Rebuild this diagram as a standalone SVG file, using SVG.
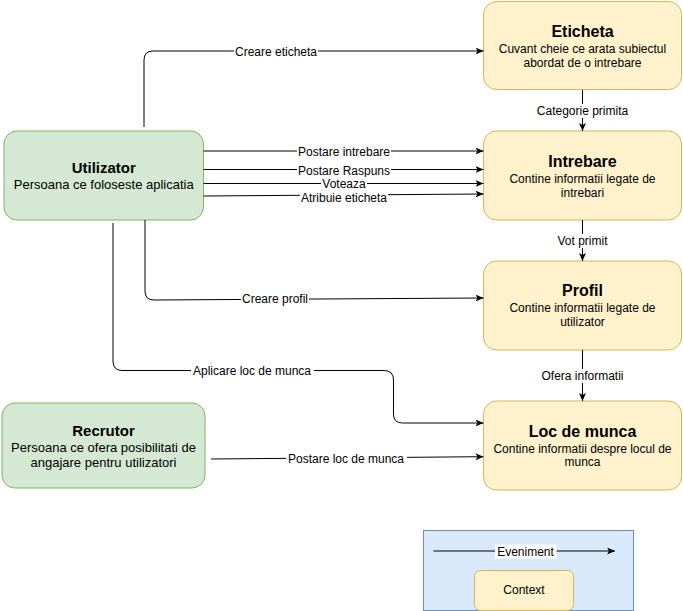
<svg xmlns="http://www.w3.org/2000/svg" width="683" height="611" viewBox="0 0 683 611">
<style>
text{font-family:"Liberation Sans",Arial,Helvetica,sans-serif;fill:#000;text-anchor:middle}
.t{font-size:16px;font-weight:bold}
.t2{font-size:15px;font-weight:bold}
.s{font-size:12px}
.s2{font-size:13px}
.l{font-size:12px}
.e{fill:none;stroke:#000;stroke-width:1}
.bg{fill:#fff}
.g{fill:#d5e8d4;stroke:#82b366;stroke-width:1}
.y{fill:#fff2cc;stroke:#d6b656;stroke-width:1}
.b{fill:#dae8fc;stroke:#6c8ebf;stroke-width:1}
</style>
<defs>
<marker id="arr" markerWidth="8" markerHeight="7" refX="8" refY="3.5" orient="auto" markerUnits="userSpaceOnUse">
<path d="M0,0 L8,3.5 L0,7 L2,3.5 z" fill="#000"/>
</marker>
</defs>
<rect width="683" height="611" fill="#fff"/>

<g id="legend">
<rect class="b" x="423.5" y="530.5" width="210" height="80"/>
<rect class="y" x="474.5" y="570.5" width="99" height="40" rx="6"/>
<text class="s" x="524" y="594">Context</text>
</g>

<g id="nodes">
<g id="etichete">
<rect class="y" x="483.5" y="1.5" width="198" height="88" rx="13"/>
<text class="t" x="582.5" y="37">Eticheta</text>
<text class="s" x="582.5" y="52.5">Cuvant cheie ce arata subiectul</text>
<text class="s" x="582.5" y="66.5">abordat de o intrebare</text>
</g>
<g id="intrebare">
<rect class="y" x="483.5" y="131" width="198" height="89" rx="13"/>
<text class="t" x="582.5" y="166.5">Intrebare</text>
<text class="s" x="582.5" y="182.5">Contine informatii legate de</text>
<text class="s" x="582.5" y="196.5">intrebari</text>
</g>
<g id="profil">
<rect class="y" x="483.5" y="261" width="198" height="89" rx="13"/>
<text class="t" x="582.5" y="296">Profil</text>
<text class="s" x="582.5" y="312">Contine informatii legate de</text>
<text class="s" x="582.5" y="326">utilizator</text>
</g>
<g id="loc">
<rect class="y" x="483.5" y="401" width="198" height="89" rx="13"/>
<text class="t" x="582.5" y="436.5">Loc de munca</text>
<text class="s" x="582.5" y="452.5">Contine informatii despre locul de</text>
<text class="s" x="582.5" y="466">munca</text>
</g>
<g id="utilizator">
<rect class="g" x="4" y="131" width="199.5" height="89" rx="13"/>
<text class="t2" x="103.75" y="172.5">Utilizator</text>
<text class="s2" x="103.75" y="189">Persoana ce foloseste aplicatia</text>
</g>
<g id="recrutor">
<rect class="g" x="2" y="403" width="203" height="85" rx="13"/>
<text class="t2" x="103.5" y="436">Recrutor</text>
<text class="s2" x="103.5" y="452">Persoana ce ofera posibilitati de</text>
<text class="s2" x="103.5" y="466.5">angajare pentru utilizatori</text>
</g>
</g>

<g id="connectors">
<path class="e" d="M144,127 V60 Q144,51 153,51 H483.5" marker-end="url(#arr)"/>
<path class="e" d="M582.5,90 V131" marker-end="url(#arr)"/>
<path class="e" d="M203.5,151 H483.5" marker-end="url(#arr)"/>
<path class="e" d="M203.5,169.5 H483.5" marker-end="url(#arr)"/>
<path class="e" d="M203.5,183.5 H483.5" marker-end="url(#arr)"/>
<path class="e" d="M203.5,196 L483.5,194" marker-end="url(#arr)"/>
<path class="e" d="M582.5,220 V261" marker-end="url(#arr)"/>
<path class="e" d="M145,220 V291 Q145,300 154,300 L483.5,298" marker-end="url(#arr)"/>
<path class="e" d="M113,223 V361 Q113,370.5 122,370.5 H384 Q393.5,370.5 393.5,380 V414 Q393.5,423 402.5,423 H483.5" marker-end="url(#arr)"/>
<path class="e" d="M582.5,350 V401" marker-end="url(#arr)"/>
<path class="e" d="M211,459 L483.5,456.7" marker-end="url(#arr)"/>
<path class="e" d="M433.5,551 H615" marker-end="url(#arr)"/>

<rect class="bg" x="234" y="44" width="84" height="14"/>
<text class="l" x="276" y="55.5">Creare eticheta</text>
<rect class="bg" x="536" y="104" width="93" height="14"/>
<text class="l" x="582.5" y="115">Categorie primita</text>
<rect class="bg" x="297" y="144" width="94" height="14"/>
<text class="l" x="344" y="155.5">Postare intrebare</text>
<rect class="bg" x="297" y="163" width="94" height="13"/>
<text class="l" x="344" y="174.5">Postare Raspuns</text>
<rect class="bg" x="321" y="177" width="46" height="12"/>
<text class="l" x="344" y="188">Voteaza</text>
<rect class="bg" x="300" y="190" width="88" height="13"/>
<text class="l" x="344" y="201.5">Atribuie eticheta</text>
<rect class="bg" x="557" y="234" width="52" height="14"/>
<text class="l" x="582.5" y="245">Vot primit</text>
<rect class="bg" x="241" y="292" width="68" height="14"/>
<text class="l" x="275" y="303">Creare profil</text>
<rect class="bg" x="191" y="364" width="123" height="14"/>
<text class="l" x="252" y="375">Aplicare loc de munca</text>
<rect class="bg" x="541" y="369" width="83" height="14"/>
<text class="l" x="582.5" y="380">Ofera informatii</text>
<rect class="bg" x="286" y="451" width="121" height="14"/>
<text class="l" x="346" y="462.5">Postare loc de munca</text>
<rect class="bg" x="495" y="544.5" width="61.5" height="14"/>
<text class="l" x="525.5" y="555.5">Eveniment</text>
</g>
</svg>
